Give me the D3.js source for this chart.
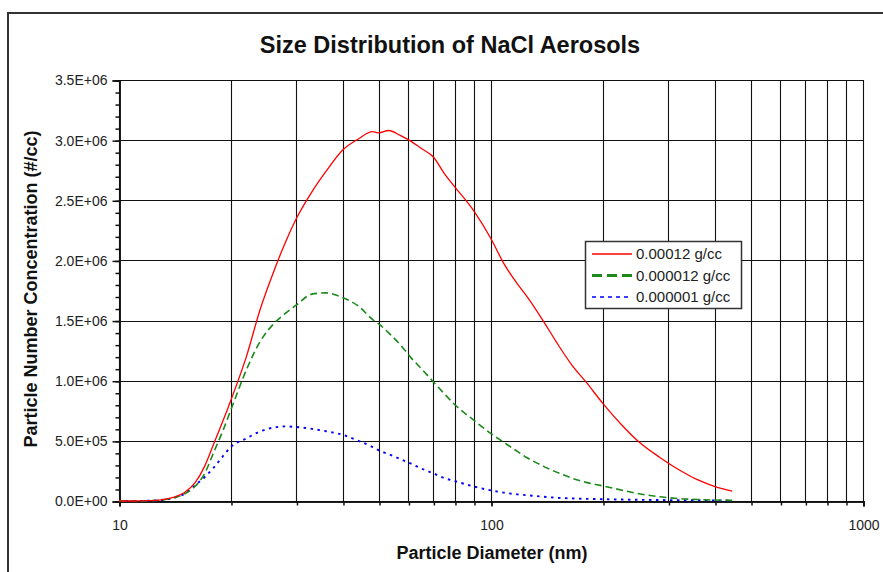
<!DOCTYPE html>
<html>
<head>
<meta charset="utf-8">
<script src="https://cdn.jsdelivr.net/npm/d3@7/dist/d3.min.js"></script>
<style>
  html, body { margin: 0; padding: 0; background: #fff; }
  svg { display: block; font-family: "Liberation Sans", Arial, sans-serif; }
</style>
</head>
<body>
<svg id="chart" width="883" height="572"></svg>
<script>
// ---- Data (values in #/cc, x in nm) ----
const diameters = [10,11,12,13,14,15,16,17,18,19,20,22,24,26,28,30,33,36,40,44,48,50,53,57,61,65,70,75,80,90,100,108,118,125,138,150,165,180,200,225,250,285,320,360,400,445];
const seriesHigh = [0,0,0.003,0.01,0.03,0.07,0.15,0.29,0.48,0.66,0.84,1.2,1.6,1.9,2.15,2.35,2.57,2.74,2.92,3.01,3.07,3.06,3.08,3.04,2.99,2.93,2.86,2.72,2.61,2.41,2.18,1.98,1.8,1.7,1.5,1.32,1.13,0.99,0.81,0.63,0.49,0.36,0.26,0.175,0.12,0.083];
const seriesMid = [0,0,0.002,0.008,0.025,0.06,0.12,0.23,0.41,0.58,0.76,1.09,1.33,1.47,1.56,1.63,1.72,1.73,1.69,1.62,1.51,1.47,1.4,1.3,1.19,1.1,0.99,0.89,0.8,0.67,0.56,0.49,0.41,0.36,0.29,0.24,0.19,0.155,0.125,0.09,0.06,0.035,0.02,0.012,0.008,0.005];
const seriesLow = [0,0,0.002,0.008,0.025,0.06,0.13,0.2,0.28,0.37,0.45,0.52,0.58,0.61,0.62,0.615,0.6,0.58,0.55,0.5,0.45,0.42,0.39,0.35,0.31,0.27,0.23,0.19,0.165,0.12,0.088,0.07,0.055,0.048,0.036,0.027,0.022,0.018,0.015,0.012,0.01,0.008,0.007,0.006,0.005,0.004];
const seriesNames = ["0.00012 g/cc", "0.000012 g/cc", "0.000001 g/cc"];
const xTickLabels = [10, 100, 1000];
const yTickLabels = [0, 0.5e6, 1.0e6, 1.5e6, 2.0e6, 2.5e6, 3.0e6, 3.5e6];
const SCALE = 1e6;

const svg = d3.select("#chart");
const M = { left: 119, right: 863, top: 80, bottom: 501 };

const x = d3.scaleLog().domain([10, 1000]).range([M.left, M.right]);
const y = d3.scaleLinear().domain([0, 3.5e6]).range([M.bottom, M.top]);

svg.append("rect").attr("width", 883).attr("height", 572).attr("fill", "#fff");
// outer frame
svg.append("rect").attr("x", 8).attr("y", 13).attr("width", 900).attr("height", 600)
  .attr("fill", "none").attr("stroke", "#333").attr("stroke-width", 2);

// grid values
const xGrid = [];
for (let dec = 10; dec < 1000; dec *= 10) for (let k = 1; k <= 9; k++) xGrid.push(dec * k);
xGrid.push(1000);
const yMinor = d3.range(0, 3.5e6 + 1, 1e5);

const grid = svg.append("g").attr("stroke", "#111").attr("stroke-width", 1.1);
grid.selectAll("line.v").data(xGrid).join("line")
  .attr("x1", d => Math.round(x(d)) + 0.5).attr("x2", d => Math.round(x(d)) + 0.5)
  .attr("y1", M.top).attr("y2", M.bottom);
grid.selectAll("line.h").data(yTickLabels).join("line")
  .attr("x1", M.left).attr("x2", M.right)
  .attr("y1", d => Math.round(y(d)) + 0.5).attr("y2", d => Math.round(y(d)) + 0.5);

// axes
function fmtE(v) {
  if (v === 0) return "0.0E+00";
  const e = Math.floor(Math.log10(v));
  const m = v / Math.pow(10, e);
  return m.toFixed(1) + "E+" + String(e).padStart(2, "0");
}
const yAxisMinor = d3.axisLeft(y).tickValues(yMinor).tickSize(4).tickFormat("");
const yAxisMajor = d3.axisLeft(y).tickValues(yTickLabels).tickSize(7).tickPadding(5).tickFormat(fmtE);
const gyMinor = svg.append("g").attr("transform", `translate(${M.left + 0.5},0.5)`).call(yAxisMinor);
const gy = svg.append("g").attr("transform", `translate(${M.left + 0.5},0.5)`).call(yAxisMajor);
[gyMinor, gy].forEach(g => {
  g.select(".domain").attr("stroke", "#111").attr("stroke-width", 1.5);
  g.selectAll(".tick line").attr("stroke", "#111").attr("stroke-width", 1.5);
});
gy.selectAll(".tick text").attr("font-size", 14).attr("fill", "#222")
  .attr("font-family", "Liberation Sans, Arial, sans-serif");

const xAxisMinor = d3.axisBottom(x).tickValues(xGrid).tickSize(4).tickFormat("");
const xAxisMajor = d3.axisBottom(x).tickValues(xTickLabels).tickSize(5).tickPadding(14).tickFormat(d3.format("d"));
const gxMinor = svg.append("g").attr("transform", `translate(0.5,${M.bottom + 0.5})`).call(xAxisMinor);
const gx = svg.append("g").attr("transform", `translate(0.5,${M.bottom + 0.5})`).call(xAxisMajor);
[gxMinor, gx].forEach(g => {
  g.select(".domain").attr("stroke", "#111").attr("stroke-width", 1.5);
  g.selectAll(".tick line").attr("stroke", "#111").attr("stroke-width", 1.5);
});
gx.selectAll(".tick text").attr("font-size", 14).attr("fill", "#222")
  .attr("font-family", "Liberation Sans, Arial, sans-serif");

// series
const series = [
  { name: seriesNames[0], values: seriesHigh, color: "#ff0000", width: 1.3, dash: null, legW: 1.5, legDash: null },
  { name: seriesNames[1], values: seriesMid, color: "#1a8a1a", width: 1.6, dash: "7,4", legW: 3, legDash: "10,5" },
  { name: seriesNames[2], values: seriesLow, color: "#0000ff", width: 1.9, dash: "2.5,4.5", legW: 1.6, legDash: "4,4" }
];
const line = d3.line().x(d => x(d[0])).y(d => y(d[1] * SCALE)).curve(d3.curveMonotoneX);
series.slice().reverse().forEach(s => {
  svg.append("path")
    .datum(diameters.map((d, i) => [d, s.values[i]]))
    .attr("d", line)
    .attr("fill", "none")
    .attr("stroke", s.color)
    .attr("stroke-width", s.width)
    .attr("stroke-dasharray", s.dash);
});

// legend
const lg = svg.append("g");
lg.append("rect").attr("x", 585.5).attr("y", 241.5).attr("width", 156).attr("height", 67)
  .attr("fill", "#fff").attr("stroke", "#333").attr("stroke-width", 1.5);
const rows = [254, 275.5, 297];
series.forEach((s, i) => {
  lg.append("line").attr("x1", 592).attr("x2", 632).attr("y1", rows[i]).attr("y2", rows[i])
    .attr("stroke", s.color).attr("stroke-width", s.legW).attr("stroke-dasharray", s.legDash);
  lg.append("text").attr("x", 636).attr("y", rows[i]).attr("dy", "0.35em")
    .attr("font-size", 15).attr("fill", "#222").text(s.name);
});

// titles
svg.append("text").attr("x", 450).attr("y", 53).attr("text-anchor", "middle")
  .attr("font-size", 23.5).attr("font-weight", "bold").attr("fill", "#111")
  .text("Size Distribution of NaCl Aerosols");
svg.append("text").attr("x", 492).attr("y", 559).attr("text-anchor", "middle")
  .attr("font-size", 18).attr("font-weight", "bold").attr("fill", "#111")
  .text("Particle Diameter (nm)");
svg.append("text").attr("transform", "translate(37,289) rotate(-90)").attr("text-anchor", "middle")
  .attr("font-size", 18).attr("font-weight", "bold").attr("fill", "#111")
  .text("Particle Number Concentration (#/cc)");
</script>
</body>
</html>
